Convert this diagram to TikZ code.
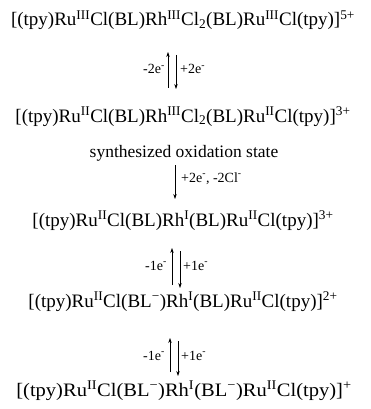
\documentclass[tikz,border=0pt]{standalone}
\usepackage{fontspec}
\setmainfont{Liberation Serif}
\usetikzlibrary{arrows.meta}
\newcommand{\sps}[1]{\textsuperscript{#1}}
\newcommand{\sbs}[1]{\textsubscript{#1}}
\begin{document}
\begin{tikzpicture}[x=1pt,y=-1pt,
  species/.style={font=\fontsize{19}{22}\selectfont, inner sep=0pt, anchor=base},
  elab/.style={font=\fontsize{14}{16}\selectfont, inner sep=0pt, anchor=base},
  note/.style={font=\fontsize{17.5}{20}\selectfont, inner sep=0pt, anchor=base},
  arr/.style={line width=0.6pt, -{Stealth[length=5pt,width=3.4pt]}}]
\useasboundingbox (0,0) rectangle (370,409);
\node[species] (s1) at (183,26) {[(tpy)Ru\sps{III}Cl(BL)Rh\sps{III}Cl\sbs{2}(BL)Ru\sps{III}Cl(tpy)]\sps{5+}};
\node[species] (s2) at (183,122) {[(tpy)Ru\sps{II}Cl(BL)Rh\sps{III}Cl\sbs{2}(BL)Ru\sps{II}Cl(tpy)]\sps{3+}};
\node[note] (n) at (184,157) {synthesized oxidation state};
\node[species] (s3) at (183,226) {[(tpy)Ru\sps{II}Cl(BL)Rh\sps{I}(BL)Ru\sps{II}Cl(tpy)]\sps{3+}};
\node[species] (s4) at (183,307) {[(tpy)Ru\sps{II}Cl(BL\sps{\textminus})Rh\sps{I}(BL)Ru\sps{II}Cl(tpy)]\sps{2+}};
\node[species, xscale=1.08] (s5) at (184,396) {[(tpy)Ru\sps{II}Cl(BL\sps{\textminus})Rh\sps{I}(BL\sps{\textminus})Ru\sps{II}Cl(tpy)]\sps{+}};
% arrows 1
\coordinate (a1t) at (168,52); \coordinate (a1b) at (168,88);
\coordinate (b1t) at (176,55); \coordinate (b1b) at (176,89);
\draw[arr] (a1b) -- (a1t);
\draw[arr] (b1t) -- (b1b);
\node[elab, anchor=base east] (l1a) at (165,74) {-2e\sps{-}};
\node[elab, anchor=base west] (l1b) at (180,74) {+2e\sps{-}};
% arrow 2
\coordinate (c2t) at (175,165); \coordinate (c2b) at (175,199);
\draw[arr] (c2t) -- (c2b);
\node[elab, anchor=base west] (l2) at (181,182) {+2e\sps{-}, -2Cl\sps{-}};
% arrows 3
\coordinate (a3t) at (172,248); \coordinate (a3b) at (172,285);
\coordinate (b3t) at (180,251); \coordinate (b3b) at (180,288);
\draw[arr] (a3b) -- (a3t);
\draw[arr] (b3t) -- (b3b);
\node[elab, anchor=base east] (l3a) at (167,270) {-1e\sps{-}};
\node[elab, anchor=base west] (l3b) at (183,270) {+1e\sps{-}};
% arrows 4
\coordinate (a4t) at (170,338); \coordinate (a4b) at (170,372);
\coordinate (b4t) at (178,341); \coordinate (b4b) at (178,376);
\draw[arr] (a4b) -- (a4t);
\draw[arr] (b4t) -- (b4b);
\node[elab, anchor=base east] (l4a) at (165,360) {-1e\sps{-}};
\node[elab, anchor=base west] (l4b) at (181,360) {+1e\sps{-}};
\end{tikzpicture}
\end{document}
